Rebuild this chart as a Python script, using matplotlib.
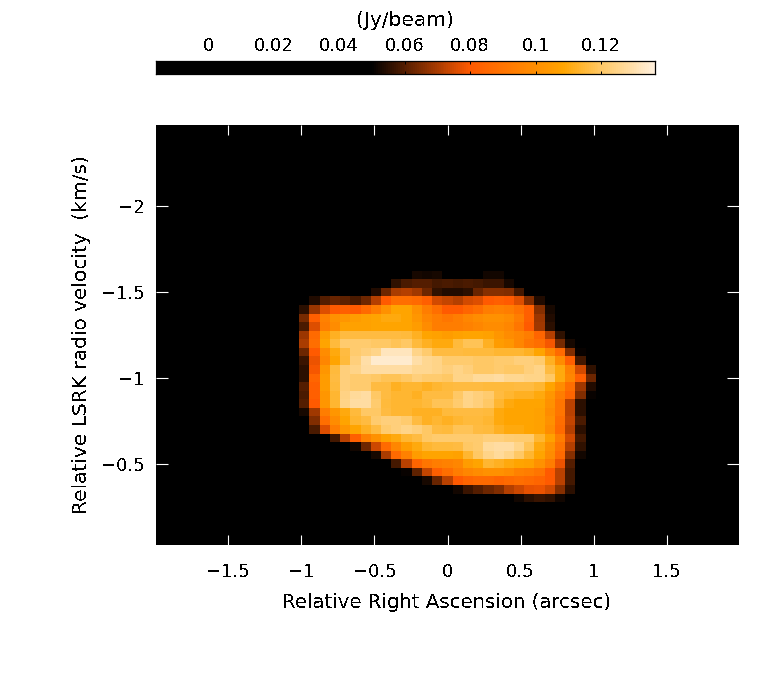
import numpy as np
import matplotlib
matplotlib.use("Agg")
import matplotlib.pyplot as plt
from matplotlib.colors import LinearSegmentedColormap

plt.rcParams['font.family'] = 'DejaVu Sans'
plt.rcParams['text.antialiased'] = False

# Channel map, in mJy/beam, blank outside the source
# first row is at -1.6 km/s, first column at -0.98 arcsec
flux_rows = [
    [0,0,0,0,0,0,0,0,0,0,0,53,52,53,0,0,0,0,52,52],
    [0,0,0,0,0,0,0,0,0,56,59,60,60,58,59,58,59,58,57,57,53],
    [0,0,0,0,0,0,0,54,63,70,71,69,63,56,54,54,55,62,66,66,65,58],
    [0,54,60,62,61,59,63,71,80,88,88,86,82,75,73,71,75,76,80,82,80,76,65,54],
    [55,68,76,80,82,80,86,93,101,108,108,101,93,88,80,80,84,88,93,95,93,89,82,66,53],
    [64,82,95,101,103,105,107,108,110,110,108,103,97,93,91,93,97,99,101,101,99,93,82,68,54],
    [59,76,93,99,107,107,107,108,108,108,108,105,99,93,93,93,95,97,99,99,97,91,80,69,55],
    [68,86,105,112,116,116,116,116,116,116,115,112,108,107,105,107,108,108,107,103,99,97,93,84,71,56],
    [70,88,108,115,121,121,121,120,120,118,120,115,112,110,110,115,118,118,112,105,103,97,91,88,79,64,53],
    [63,80,99,110,116,121,123,125,132,132,132,125,121,116,116,116,115,115,115,114,114,114,112,108,97,86,65,51],
    [57,78,97,108,115,123,129,134,134,134,134,129,126,125,121,121,121,120,120,121,121,123,123,121,112,99,82,58],
    [55,79,103,115,123,125,128,128,128,128,128,126,126,125,123,125,123,120,120,121,120,120,123,125,116,110,95,75,56],
    [55,84,105,116,123,121,121,120,118,118,120,123,121,121,120,125,125,127,127,128,126,126,125,125,120,110,97,82,63],
    [60,82,105,115,123,121,121,116,116,112,114,114,112,114,115,116,116,116,115,115,115,116,116,114,108,99,88,69,54],
    [59,82,103,114,124,127,128,120,116,114,114,112,116,116,116,120,125,123,121,116,114,112,112,110,103,93,84,65,51],
    [60,80,103,114,125,128,128,121,115,114,114,114,115,118,118,121,125,123,120,114,110,108,108,108,101,90,72,55],
    [53,69,93,103,110,115,120,120,116,114,114,112,112,112,115,116,116,116,115,110,108,108,108,107,99,90,72,55],
    [0,65,88,99,108,114,116,121,123,123,121,116,112,114,112,114,115,115,114,110,108,108,108,107,101,88,73,59],
    [0,59,76,93,103,108,112,116,121,123,125,123,120,116,115,118,118,116,115,112,110,110,108,107,99,86,71,55],
    [0,0,0,58,72,82,95,101,107,110,114,116,120,121,121,121,121,121,123,123,122,121,121,114,107,93,75,58],
    [0,0,0,0,0,52,63,74,86,97,105,110,114,115,115,116,120,121,127,128,128,125,118,110,101,89,71,56],
    [0,0,0,0,0,0,0,53,70,86,95,105,108,108,108,107,114,120,125,127,125,120,114,108,99,86,66,52],
    [0,0,0,0,0,0,0,0,0,58,72,84,90,93,95,97,105,108,114,112,110,108,107,101,93,78,60],
    [0,0,0,0,0,0,0,0,0,0,51,61,73,82,88,93,97,99,101,101,99,95,93,90,80,72,58],
    [0,0,0,0,0,0,0,0,0,0,0,0,53,62,72,80,84,86,86,84,86,88,86,84,80,72,58],
    [0,0,0,0,0,0,0,0,0,0,0,0,0,0,0,52,57,60,63,65,71,74,77,78,75,66,55],
    [0,0,0,0,0,0,0,0,0,0,0,0,0,0,0,0,0,0,0,0,0,52,55,57,56,52],
]

x_ticks = [-1.5, -1, -0.5, 0, 0.5, 1, 1.5]
x_tick_labels = ['\u22121.5', '\u22121', '\u22120.5', '0', '0.5', '1', '1.5']
y_ticks = [-2, -1.5, -1, -0.5]
y_tick_labels = ['\u22122', '\u22121.5', '\u22121', '\u22120.5']
cbar_ticks = [0, 0.02, 0.04, 0.06, 0.08, 0.1, 0.12]
cbar_tick_labels = ['0', '0.02', '0.04', '0.06', '0.08', '0.1', '0.12']

vmin, vmax = -0.0159, 0.1363

# colormap stops taken from the colour bar
stop_values = [vmin, 0.05, 0.08, 0.1085, 0.12, vmax]
stop_colors = ['#000000', '#000000', '#ff5a00', '#ffa500', '#ffc864', '#fff0dc']
stops = [(v - vmin) / (vmax - vmin) for v in stop_values]
cmap = LinearSegmentedColormap.from_list('rainbow_hot', list(zip(stops, stop_colors)), N=256)

W, H = 779, 680


def pixel_axes(fig, x0, y0, x1, y1):
    return fig.add_axes([x0 / W, 1 - y1 / H, (x1 - x0) / W, (y1 - y0) / H])


# whole image is 57 x 49 channels, source sits at row 17, column 14
image = np.zeros((49, 57))
for i, row in enumerate(flux_rows):
    image[17 + i, 14:14 + len(row)] = np.array(row) / 1000.0

fig = plt.figure(figsize=(W / 100, H / 100), dpi=100, facecolor='white')

ax = pixel_axes(fig, 156, 125, 739, 545)
ax.imshow(image, cmap=cmap, vmin=vmin, vmax=vmax, interpolation='nearest',
          aspect='auto', origin='upper', extent=[-1.995, 1.995, -0.025, -2.475])
for side in ax.spines.values():
    side.set_visible(False)
ax.set_xticks(x_ticks, x_tick_labels)
ax.set_yticks(y_ticks, y_tick_labels)
ax.tick_params(axis='x', direction='in', top=True, bottom=True, length=7.2, width=0.8,
               color='white', labelsize=13, pad=13)
ax.tick_params(axis='y', direction='in', left=True, right=True, length=8.4, width=0.8,
               color='white', labelsize=13, pad=8)

# colour bar
cax = pixel_axes(fig, 156, 61, 654.5, 74)
gradient = np.linspace(vmin, vmax, 256).reshape(1, -1)
cax.imshow(gradient, cmap=cmap, vmin=vmin, vmax=vmax, aspect='auto',
           extent=[vmin, vmax, 0, 1], interpolation='nearest')
cax.set_yticks([])
cax.set_xticks(cbar_ticks, cbar_tick_labels)
cax.xaxis.tick_top()
cax.tick_params(axis='x', direction='in', top=True, bottom=True, length=2.2, width=0.7,
                labelsize=13, pad=4)
for side in cax.spines.values():
    side.set_linewidth(0.9)

fig.text(405 / W, 1 - 21 / H, '(Jy/beam)', ha='center', va='center', fontsize=14.5)
fig.text(447 / W, 1 - 603 / H, 'Relative Right Ascension (arcsec)', ha='center', va='center', fontsize=14.2)
fig.text(82 / W, 1 - 335 / H, 'Relative LSRK radio velocity  (km/s)', ha='center', va='center',
         rotation=90, fontsize=14.5)

fig.savefig('out.png', dpi=100)
